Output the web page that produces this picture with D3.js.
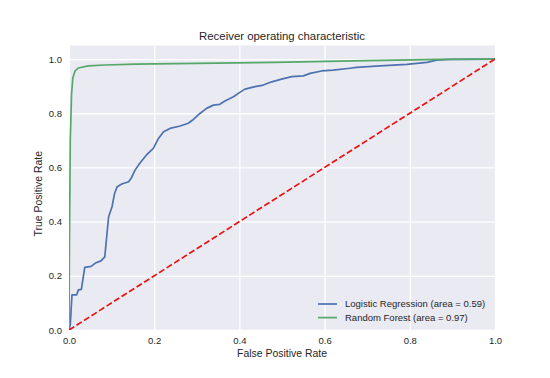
<!DOCTYPE html>
<html><head><meta charset="utf-8">
<script src="https://cdn.jsdelivr.net/npm/d3@7"></script>
<style>body{margin:0;background:#fff;} text{font-family:"Liberation Sans",Arial,sans-serif;fill:#262626;}</style>
</head><body><svg id="c" width="550" height="378"></svg>
<script>
const title = "Receiver operating characteristic";
const xLabel = "False Positive Rate";
const yLabel = "True Positive Rate";
const seriesNames = ["Logistic Regression (area = 0.59)", "Random Forest (area = 0.97)"];
const xTicks = [0.0, 0.2, 0.4, 0.6, 0.8, 1.0];
const yTicks = [0.0, 0.2, 0.4, 0.6, 0.8, 1.0];
const lrFpr = [0,0.003,0.007,0.018,0.022,0.029,0.031,0.037,0.052,0.062,0.075,0.084,0.087,0.09,0.093,0.101,0.107,0.113,0.124,0.14,0.147,0.155,0.167,0.182,0.198,0.21,0.222,0.237,0.261,0.28,0.292,0.308,0.323,0.339,0.354,0.366,0.386,0.401,0.413,0.437,0.456,0.476,0.499,0.523,0.55,0.566,0.593,0.62,0.66,0.675,0.73,0.793,0.84,0.863,0.894,1];
const lrTpr = [0,0.02,0.13,0.13,0.148,0.15,0.17,0.231,0.235,0.247,0.255,0.27,0.32,0.369,0.418,0.455,0.504,0.529,0.539,0.547,0.563,0.59,0.617,0.646,0.67,0.707,0.732,0.744,0.753,0.763,0.777,0.80,0.818,0.83,0.833,0.845,0.861,0.877,0.889,0.898,0.904,0.916,0.926,0.935,0.938,0.947,0.956,0.959,0.966,0.969,0.975,0.98,0.988,0.996,0.999,1];
const rfFpr = [0,0.001,0.003,0.006,0.009,0.014,0.022,0.045,0.085,0.155,0.48,0.7,0.875,1];
const rfTpr = [0,0.3,0.7,0.87,0.93,0.955,0.967,0.975,0.978,0.981,0.988,0.994,0.999,1];
const diag = [0, 1];

const svg = d3.select("#c");
const L = 69, R = 495, T = 45.5, B = 330;
const x = d3.scaleLinear().domain([0, 1]).range([L, R]);
const y = d3.scaleLinear().domain([0, 1.05]).range([B, T]);

svg.append("rect").attr("x", L).attr("y", T).attr("width", R - L).attr("height", B - T).attr("fill", "#EAEAF2");

const gx = svg.append("g").attr("transform", `translate(0,${B})`)
  .call(d3.axisBottom(x).tickValues(xTicks).tickFormat(d3.format(".1f")).tickSize(-(B - T)).tickPadding(7));
const gy = svg.append("g").attr("transform", `translate(${L},0)`)
  .call(d3.axisLeft(y).tickValues(yTicks).tickFormat(d3.format(".1f")).tickSize(-(R - L)).tickPadding(7));
[gx, gy].forEach(g => {
  g.select(".domain").remove();
  g.selectAll(".tick line").attr("stroke", "#fff").attr("stroke-width", 1.3);
  g.selectAll(".tick text").attr("font-size", "9.5px").attr("fill", "#262626")
    .attr("font-family", "'Liberation Sans',Arial,sans-serif");
});

const line = d3.line().x(d => x(d[0])).y(d => y(d[1]));
const clip = svg.append("clipPath").attr("id", "pc").append("rect")
  .attr("x", L).attr("y", T).attr("width", R - L).attr("height", B - T);
const plot = svg.append("g").attr("clip-path", "url(#pc)");

plot.append("path").datum(lrFpr.map((v, i) => [v, lrTpr[i]]))
  .attr("d", line).attr("fill", "none").attr("stroke", "#4C72B0").attr("stroke-width", 1.7).attr("stroke-linejoin", "round");
plot.append("path").datum(rfFpr.map((v, i) => [v, rfTpr[i]]))
  .attr("d", line).attr("fill", "none").attr("stroke", "#55A868").attr("stroke-width", 1.7).attr("stroke-linejoin", "round");
plot.append("path").datum(diag.map(v => [v, v]))
  .attr("d", line).attr("fill", "none").attr("stroke", "#ee1111").attr("stroke-width", 1.7).attr("stroke-dasharray", "6.2,2.7");

svg.append("text").attr("x", (L + R) / 2).attr("y", 40).attr("text-anchor", "middle").attr("font-size", "11.4px").text(title);
svg.append("text").attr("x", (L + R) / 2).attr("y", 357).attr("text-anchor", "middle").attr("font-size", "10.45px").text(xLabel);
svg.append("text").attr("transform", `translate(42,${(T + B) / 2 + 6}) rotate(-90)`).attr("text-anchor", "middle").attr("font-size", "10.45px").text(yLabel);

const colors = ["#4C72B0", "#55A868"];
const lg = svg.append("g");
seriesNames.forEach((n, i) => {
  const yy = 304 + i * 13.6;
  lg.append("line").attr("x1", 318).attr("x2", 337).attr("y1", yy).attr("y2", yy).attr("stroke", colors[i]).attr("stroke-width", 1.7);
  lg.append("text").attr("x", 345).attr("y", yy + 3.4).attr("font-size", "9.5px").text(n);
});
</script></body></html>
